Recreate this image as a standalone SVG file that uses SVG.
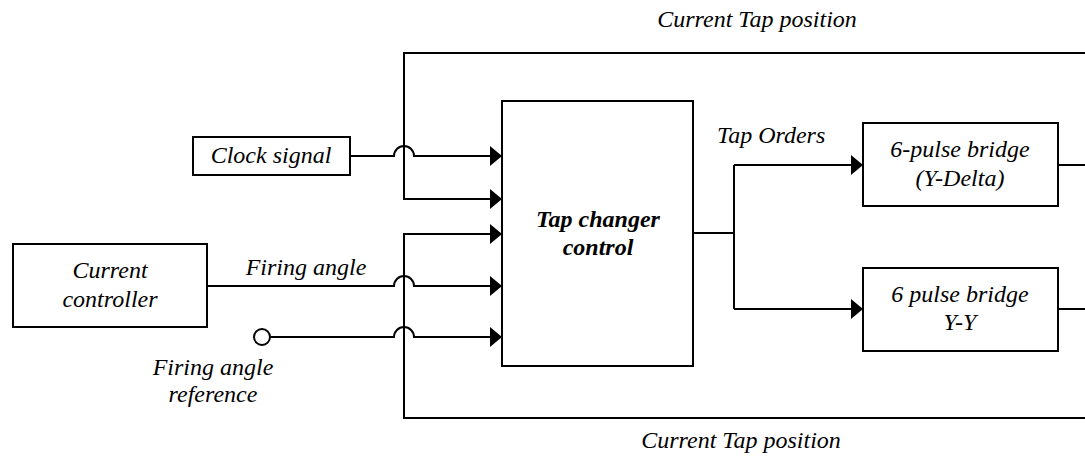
<svg xmlns="http://www.w3.org/2000/svg" width="1085" height="465" viewBox="0 0 1085 465">
<style>
.box{fill:#fff;stroke:#000;stroke-width:2}
.ln{fill:none;stroke:#000;stroke-width:2}
text{font-style:italic;font-size:24px;fill:#000;text-anchor:middle}
.b{font-weight:bold}
.l{text-anchor:start}
</style>
<defs>
<marker id="arr" markerUnits="userSpaceOnUse" markerWidth="14" markerHeight="22" refX="12" refY="10" orient="auto" viewBox="0 0 14 22">
<path d="M0,0 L12,10 L0,20 z" fill="#000"/>
</marker>
</defs>
<rect width="1085" height="465" fill="#fff"/>
<g font-family="Liberation Serif, Times New Roman, DejaVu Serif, serif">
<g id="connectors">
<path class="ln" d="M1085,53 H404 V199 H502" marker-end="url(#arr)"/>
<path class="ln" d="M1085,418 H404 V234 H502" marker-end="url(#arr)"/>
<path class="ln" d="M350,156 H394 A10,10 0 0 1 414,156 H502" marker-end="url(#arr)"/>
<path class="ln" d="M207,286 H394 A10,10 0 0 1 414,286 H502" marker-end="url(#arr)"/>
<path class="ln" d="M270,337 H394 A10,10 0 0 1 414,337 H502" marker-end="url(#arr)"/>
<path class="ln" d="M693,233 H734"/>
<path class="ln" d="M734,165 V309"/>
<path class="ln" d="M734,165 H863" marker-end="url(#arr)"/>
<path class="ln" d="M734,309 H863" marker-end="url(#arr)"/>
<path class="ln" d="M1058,165 H1085"/>
<path class="ln" d="M1058,309 H1085"/>
<text x="757" y="27">Current Tap position</text>
<text x="741" y="448">Current Tap position</text>
<text x="306" y="275">Firing angle</text>
<text class="l" x="717" y="143">Tap Orders</text>
</g>
<g id="clock">
<rect class="box" x="193" y="137" width="157" height="38"/>
<text x="271" y="163">Clock signal</text>
</g>
<g id="current-controller">
<rect class="box" x="13" y="244" width="194" height="83"/>
<text x="110" y="278">Current</text>
<text x="110" y="307">controller</text>
</g>
<g id="firing-ref">
<circle cx="262" cy="337" r="8" fill="#fff" stroke="#000" stroke-width="2"/>
<text x="213" y="375">Firing angle</text>
<text x="213" y="402">reference</text>
</g>
<g id="tap-changer">
<rect class="box" x="502" y="101" width="191" height="265"/>
<text class="b" x="598" y="227">Tap changer</text>
<text class="b" x="598" y="255">control</text>
</g>
<g id="bridge-yd">
<rect class="box" x="863" y="123" width="195" height="83"/>
<text x="960" y="157">6-pulse bridge</text>
<text x="960" y="186">(Y-Delta)</text>
</g>
<g id="bridge-yy">
<rect class="box" x="863" y="268" width="195" height="83"/>
<text x="960" y="302">6 pulse bridge</text>
<text x="960" y="330">Y-Y</text>
</g>
</g>
</svg>
